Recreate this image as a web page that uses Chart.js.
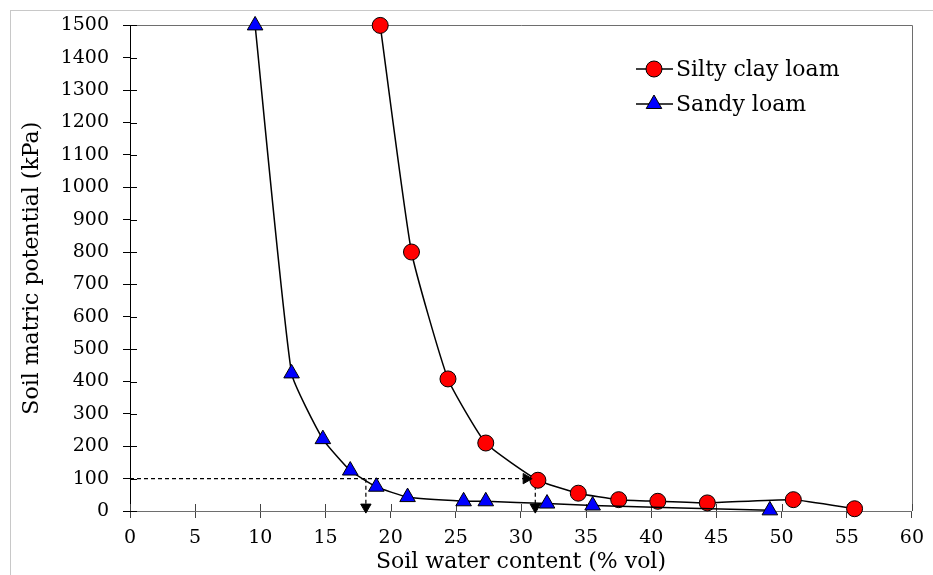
<!DOCTYPE html>
<html>
<head>
<meta charset="utf-8">
<script src="https://cdn.jsdelivr.net/npm/chart.js@4.4.0/dist/chart.umd.min.js"></script>
<style>
    html, body { margin: 0; padding: 0; background: #fff; }
    #wrap { position: relative; width: 933px; height: 575px; overflow: hidden; }
    #frame { position: absolute; left: 10px; top: 10px; width: 1000px; height: 1000px;
             border-left: 1px solid #c8c8c8; border-top: 1px solid #c8c8c8; }
    #chart { position: absolute; left: 0; top: 0; }
</style>
</head>
<body>
<div id="wrap">
    <div id="frame"></div>
    <canvas id="chart" width="933" height="575"></canvas>
</div>
<script>
// Data
const sandyX = [9.6, 12.4, 14.8, 16.9, 18.9, 21.3, 25.6, 27.3, 32.0, 35.5, 49.1];
const sandyY = [1500, 425, 222, 125, 75, 43, 30, 30, 23, 17, 2];
const siltyX = [19.2, 21.6, 24.4, 27.3, 31.3, 34.4, 37.5, 40.5, 44.3, 50.9, 55.6];
const siltyY = [1500, 800, 408, 210, 95, 55, 35, 30, 25, 35, 7];

// Guide lines (dashed) and their arrow heads
const guideH = [[0, 100], [30.6, 100]];
const guideV1 = [[18.1, 100], [18.1, 0]];
const guideV2 = [[31.1, 100], [31.1, 0]];
const arrowsDown = [[18.1, 12], [31.1, 12]];
const arrowsRight = [[30.4, 100]];

const seriesNames = ['Silty clay loam', 'Sandy loam'];
const xTitle = 'Soil water content (% vol)';
const yTitle = 'Soil matric potential (kPa)';

const FONT = "'DejaVu Serif', serif";

const toPts = (xs, ys) => xs.map((x, i) => ({ x: x, y: ys[i] }));
const pairs = arr => arr.map(p => ({ x: p[0], y: p[1] }));

function dashed(pts) {
    return {
        data: pairs(pts), showLine: true, borderColor: '#000', borderWidth: 1.2,
        borderDash: [4, 3], pointRadius: 0, order: 5, clip: false
    };
}

function arrows(pts, rot) {
    return {
        data: pairs(pts), showLine: false, pointStyle: 'triangle',
        pointRotation: rot, pointRadius: 6, pointBackgroundColor: '#000',
        pointBorderColor: '#000', pointBorderWidth: 1, order: 0, clip: false
    };
}

// ticks crossing the axes + top/right frame
const axisExtras = {
    id: 'axisExtras',
    beforeDatasetsDraw(chart) {
        const ctx = chart.ctx;
        const a = chart.chartArea;
        const xs = chart.scales.x, ys = chart.scales.y;
        ctx.save();
        ctx.lineWidth = 1;
        ctx.strokeStyle = '#6e6e6e';
        ctx.beginPath();
        ctx.moveTo(a.left, Math.round(a.top) + 0.5);
        ctx.lineTo(Math.round(a.right) + 0.5, Math.round(a.top) + 0.5);
        ctx.lineTo(Math.round(a.right) + 0.5, a.bottom);
        ctx.stroke();
        ctx.strokeStyle = '#444';
        ctx.beginPath();
        xs.ticks.forEach(t => {
            const px = Math.round(xs.getPixelForValue(t.value)) + 0.5;
            ctx.moveTo(px, a.bottom);
            ctx.lineTo(px, a.bottom - 7);
        });
        ctx.stroke();
        ctx.strokeStyle = '#000';
        ctx.beginPath();
        ys.ticks.forEach(t => {
            const py = Math.round(ys.getPixelForValue(t.value)) + 0.5;
            ctx.moveTo(a.left, py);
            ctx.lineTo(a.left + 7, py);
        });
        ctx.stroke();
        ctx.restore();
    }
};

// legend drawn inside the plot like the original
const insideLegend = {
    id: 'insideLegend',
    afterDraw(chart) {
        const ctx = chart.ctx;
        const rows = [
            { label: seriesNames[0], y: 69, ds: chart.data.datasets[0] },
            { label: seriesNames[1], y: 104, ds: chart.data.datasets[1] }
        ];
        ctx.save();
        rows.forEach(r => {
            ctx.strokeStyle = '#000';
            ctx.lineWidth = 1.5;
            ctx.beginPath();
            ctx.moveTo(636, r.y);
            ctx.lineTo(673, r.y);
            ctx.stroke();
            ctx.fillStyle = r.ds.pointBackgroundColor;
            ctx.strokeStyle = '#000';
            ctx.lineWidth = 1;
            Chart.helpers.drawPoint(ctx, { pointStyle: r.ds.pointStyle, radius: r.ds.pointRadius, borderWidth: 1 }, 654, r.y);
            ctx.fillStyle = '#000';
            ctx.font = "22px " + FONT;
            ctx.textBaseline = 'middle';
            ctx.fillText(r.label, 676, r.y + 1);
        });
        ctx.restore();
    }
};

new Chart(document.getElementById('chart'), {
    type: 'scatter',
    data: {
        datasets: [
            {
                label: seriesNames[0],
                data: toPts(siltyX, siltyY),
                showLine: true,
                borderColor: '#000',
                borderWidth: 1.5,
                backgroundColor: '#ff0000',
                pointBackgroundColor: '#ff0000',
                pointBorderColor: '#000',
                pointBorderWidth: 1,
                pointStyle: 'circle',
                pointRadius: 8,
                tension: 0.15,
                clip: false,
                order: 2
            },
            {
                label: seriesNames[1],
                data: toPts(sandyX, sandyY),
                showLine: true,
                borderColor: '#000',
                borderWidth: 1.5,
                backgroundColor: '#0000ff',
                pointBackgroundColor: '#0000ff',
                pointBorderColor: '#000',
                pointBorderWidth: 1,
                pointStyle: 'triangle',
                pointRadius: 9,
                tension: 0.15,
                clip: false,
                order: 1
            },
            dashed(guideH),
            dashed(guideV1),
            dashed(guideV2),
            arrows(arrowsDown, 180),
            arrows(arrowsRight, 90)
        ]
    },
    options: {
        responsive: false,
        animation: false,
        layout: { padding: { left: 0, right: 18, top: 23, bottom: 0 } },
        plugins: { legend: { display: false }, tooltip: { enabled: false } },
        scales: {
            x: {
                type: 'linear', min: 0, max: 60,
                ticks: { stepSize: 5, color: '#000', padding: 9, font: { family: FONT, size: 19 },
                         callback: v => String(v) },
                grid: { drawOnChartArea: false, tickLength: 7, color: '#444' },
                border: { color: '#6e6e6e', width: 1 },
                title: { display: true, text: xTitle, color: '#000', padding: 0,
                         font: { family: FONT, size: 22 } },
                afterFit: s => { s.height = 64; }
            },
            y: {
                type: 'linear', min: 0, max: 1500,
                ticks: { stepSize: 100, color: '#000', padding: 14, font: { family: FONT, size: 19 },
                         callback: v => String(v) },
                grid: { drawOnChartArea: false, tickLength: 7, color: '#000' },
                border: { color: '#000', width: 1 },
                title: { display: true, text: yTitle, color: '#000', padding: 19,
                         font: { family: FONT, size: 22 } },
                afterFit: s => { s.width = 130; }
            }
        }
    },
    plugins: [axisExtras, insideLegend]
});
</script>
</body>
</html>
